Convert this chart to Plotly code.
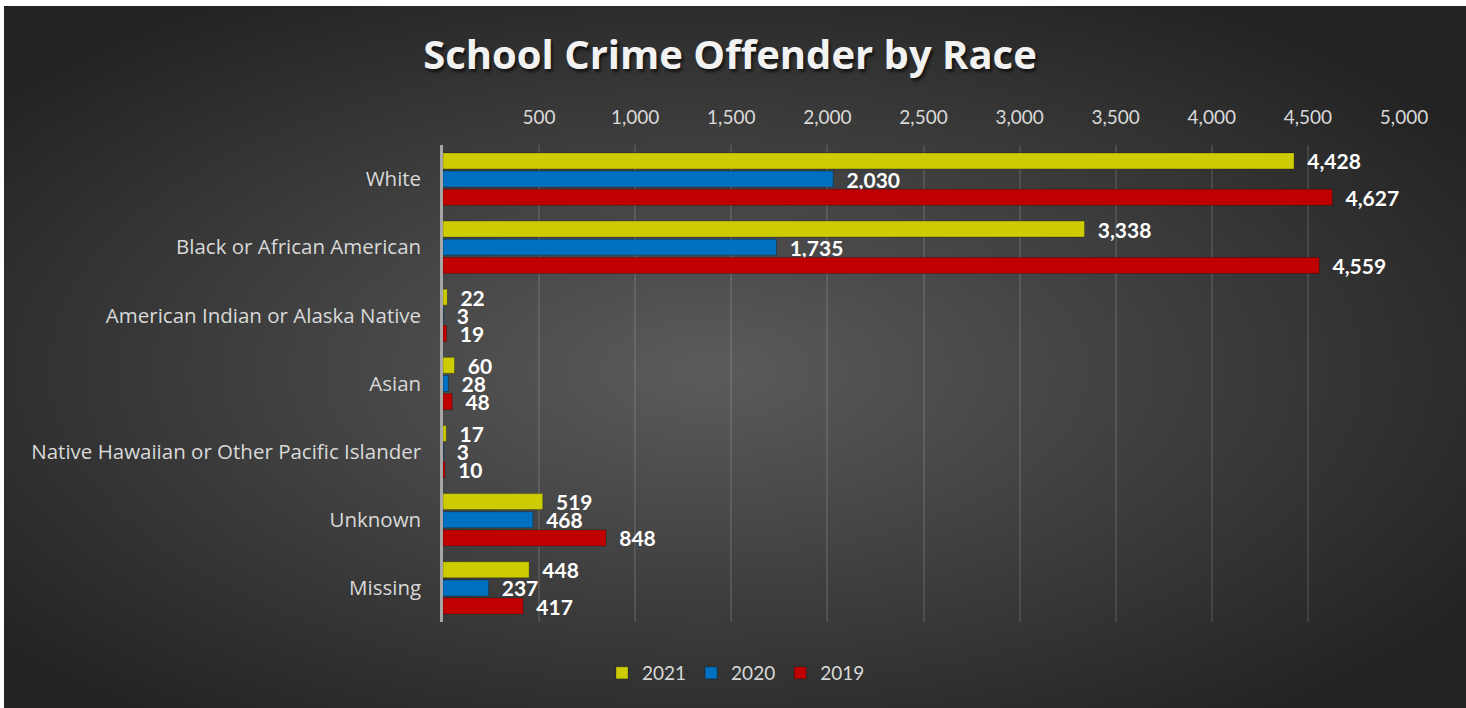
import base64
import plotly.graph_objects as go

W, H = 1466, 708

categories = ["White", "Black or African American", "American Indian or Alaska Native",
              "Asian", "Native Hawaiian or Other Pacific Islander", "Unknown", "Missing"]
series_names = ["2021", "2020", "2019"]
values_2021 = [4428, 3338, 22, 60, 17, 519, 448]
values_2020 = [2030, 1735, 3, 28, 3, 468, 237]
values_2019 = [4627, 4559, 19, 48, 10, 848, 417]
tick_values = [500, 1000, 1500, 2000, 2500, 3000, 3500, 4000, 4500, 5000]
tick_labels = ["500", "1,000", "1,500", "2,000", "2,500", "3,000", "3,500", "4,000", "4,500", "5,000"]

colors = ["#CCCC00", "#0070C0", "#C00000"]
series_values = [values_2021, values_2020, values_2019]

FONT = "Lato"
LABEL_GRAY = "#d9d9d9"

fig = go.Figure()
for name, vals, col in zip(series_names, series_values, colors):
    fig.add_trace(go.Bar(
        y=categories, x=vals, name=name, orientation="h",
        marker=dict(color=col, line=dict(color="rgba(0,0,0,0.25)", width=1)),
        text=vals,
        texttemplate="\u00a0\u00a0%{x:,}",
        textposition="outside",
        constraintext="none",
        cliponaxis=False,
        textfont=dict(family=FONT, size=21, color="white", weight="bold"),
        hoverinfo="x+y+name",
    ))

svg = ('<svg xmlns="http://www.w3.org/2000/svg" width="1462" height="702" preserveAspectRatio="none">'
       '<defs><radialGradient id="g" cx="48%" cy="52%" r="62%">'
       '<stop offset="0" stop-color="#5b5b5b"/><stop offset="1" stop-color="#232323"/>'
       '</radialGradient></defs><rect width="1462" height="702" fill="url(#g)"/></svg>')
src = "data:image/svg+xml;base64," + base64.b64encode(svg.encode()).decode()

x0, x1 = 443 / W, 1404 / W
ytop, ybot = 1 - 145 / H, 1 - 622 / H

fig.update_layout(
    width=W, height=H,
    margin=dict(l=0, r=0, t=0, b=0, autoexpand=False),
    paper_bgcolor="white",
    plot_bgcolor="rgba(0,0,0,0)",
    barmode="group",
    bargap=0.2,
    bargroupgap=0.12,
    font=dict(family=FONT, color=LABEL_GRAY),
    images=[dict(source=src, xref="paper", yref="paper", x=4 / W, y=1 - 6 / H,
                 sizex=1 - 4 / W, sizey=1 - 6 / H, xanchor="left", yanchor="top",
                 sizing="stretch", layer="below")],
    title=dict(text="<b>School Crime Offender by Race</b>", x=730 / W, xanchor="center",
               y=1 - 55 / H, yanchor="middle",
               font=dict(family="Open Sans", size=40, color="#f2f2f2",
                         shadow="2px 3px 3px rgba(0,0,0,0.6)")),
    xaxis=dict(domain=[x0, x1], range=[0, 5000], side="top", automargin=False,
               tickvals=tick_values, ticktext=tick_labels,
               tickfont=dict(family=FONT, size=19, color=LABEL_GRAY),
               showgrid=True, gridcolor="rgba(255,255,255,0.11)", gridwidth=1.5,
               zeroline=False, showline=False, ticks="", ticklabelstandoff=16),
    yaxis=dict(domain=[ybot, ytop], categoryorder="array", categoryarray=categories,
               autorange="reversed", automargin=False,
               tickfont=dict(family="Open Sans", size=20.5, color=LABEL_GRAY),
               showline=True, linecolor="#a6a6a6", linewidth=2.5, showgrid=False,
               ticks="", ticklabelstandoff=15),
    legend=dict(orientation="h", x=736 / W, xanchor="center", y=1 - 673 / H, yanchor="middle",
                font=dict(family=FONT, size=19, color=LABEL_GRAY), bgcolor="rgba(0,0,0,0)"),
)

fig.write_html("out.html", config={"displayModeBar": False},
               post_script="document.body.style.margin='0';document.body.style.overflow='hidden';")
